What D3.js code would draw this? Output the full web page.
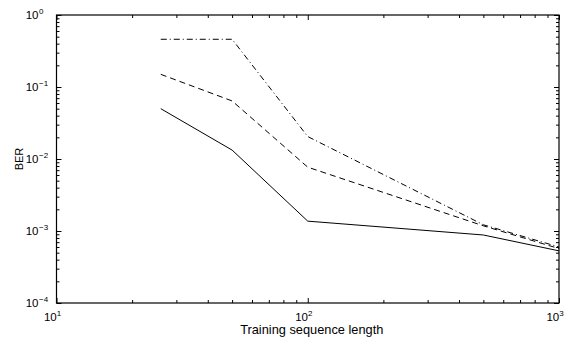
<!DOCTYPE html>
<html>
<head>
<meta charset="utf-8">
<script src="https://cdn.jsdelivr.net/npm/d3@7"></script>
<style>
  body { margin: 0; background: #fff; }
  svg { display: block; font-family: "Liberation Sans", Arial, sans-serif; }
</style>
</head>
<body>
<div id="app"></div>
<script>
// training sequence lengths
const lengths = [26, 50, 100, 500, 1000]
// BER per curve
const berSolid = [0.05, 0.0133, 0.00137, 0.00088, 0.00053]
const berDashed = [0.15, 0.064, 0.0077, 0.00118, 0.00057]
const berDashDot = [0.46, 0.46, 0.0205, 0.00122, 0.0006]
const xTickExps = [1, 2, 3]
const yTickExps = [0, -1, -2, -3, -4]

const width = 583
const height = 340
const margin = { left: 56.5, right: 24, top: 15, bottom: 37 }

const svg = d3.select('#app').append('svg')
  .attr('width', width)
  .attr('height', height)

const x = d3.scaleLog().domain([10, 1000]).range([margin.left, width - margin.right])
const y = d3.scaleLog().domain([1e-4, 1]).range([height - margin.bottom, margin.top])

const xMajor = xTickExps.map((e) => 10 ** e)
const yMajor = yTickExps.map((e) => 10 ** e)
const isMajor = (list) => (v) => list.some((m) => Math.abs(m - v) / m < 1e-9)
const xMinor = x.ticks().filter((v) => !isMajor(xMajor)(v))
const yMinor = y.ticks().filter((v) => !isMajor(yMajor)(v))

const x0 = x.range()[0], x1 = x.range()[1]
const y0 = y.range()[0], y1 = y.range()[1]

// axes with inward ticks on all four sides
function addAxis(axisFn, scale, vals, size, transform) {
  svg.append('g')
    .attr('transform', transform)
    .call(axisFn(scale).tickValues(vals).tickSize(size).tickFormat(''))
    .call((g) => g.select('.domain').remove())
    .selectAll('line').attr('stroke', '#000').attr('stroke-width', 1)
}
addAxis(d3.axisBottom, x, xMajor, -5, `translate(0,${y0})`)
addAxis(d3.axisBottom, x, xMinor, -3, `translate(0,${y0})`)
addAxis(d3.axisTop, x, xMajor, -5, `translate(0,${y1})`)
addAxis(d3.axisTop, x, xMinor, -3, `translate(0,${y1})`)
addAxis(d3.axisLeft, y, yMajor, -5, `translate(${x0},0)`)
addAxis(d3.axisLeft, y, yMinor, -3, `translate(${x0},0)`)
addAxis(d3.axisRight, y, yMajor, -5, `translate(${x1},0)`)
addAxis(d3.axisRight, y, yMinor, -3, `translate(${x1},0)`)

svg.append('rect')
  .attr('x', x0).attr('y', y1)
  .attr('width', x1 - x0).attr('height', y0 - y1)
  .attr('fill', 'none').attr('stroke', '#000').attr('stroke-width', 1.2)

// tick labels with superscript exponents
const xl = svg.append('g').selectAll('text').data(xTickExps).join('text')
  .attr('x', (d) => x(10 ** d) - 4)
  .attr('y', y0 + 18)
  .attr('text-anchor', 'middle')
  .attr('font-size', 11.5)
xl.append('tspan').text('10')
xl.append('tspan').attr('dy', -5).attr('font-size', 8).text((d) => d)

const yl = svg.append('g').selectAll('text').data(yTickExps).join('text')
  .attr('x', margin.left - 18)
  .attr('y', (d) => y(10 ** d) + 4)
  .attr('text-anchor', 'end')
  .attr('font-size', 11.5)
yl.append('tspan').text('10')
yl.append('tspan').attr('x', margin.left - 17.5).attr('dy', -5).attr('font-size', 8)
  .attr('text-anchor', 'start').text((d) => (d < 0 ? '\u2212' + -d : d))

svg.append('text')
  .attr('x', (x0 + x1) / 2 + 4)
  .attr('y', y0 + 30.5)
  .attr('text-anchor', 'middle')
  .attr('font-size', 12.8)
  .text('Training sequence length')

svg.append('text')
  .attr('transform', `translate(23,${y(1e-2)}) rotate(-90)`)
  .attr('text-anchor', 'middle')
  .attr('font-size', 11)
  .text('BER')

const line = d3.line().x((d) => x(d[0])).y((d) => y(d[1]))
const series = [
  { values: berSolid, dash: null },
  { values: berDashed, dash: '6,4' },
  { values: berDashDot, dash: '6,3,1,3' },
]
svg.append('g').selectAll('path').data(series).join('path')
  .attr('d', (s) => line(lengths.map((l, i) => [l, s.values[i]])))
  .attr('fill', 'none')
  .attr('stroke', '#000')
  .attr('stroke-width', 1)
  .attr('stroke-dasharray', (s) => s.dash)
</script>
</body>
</html>
